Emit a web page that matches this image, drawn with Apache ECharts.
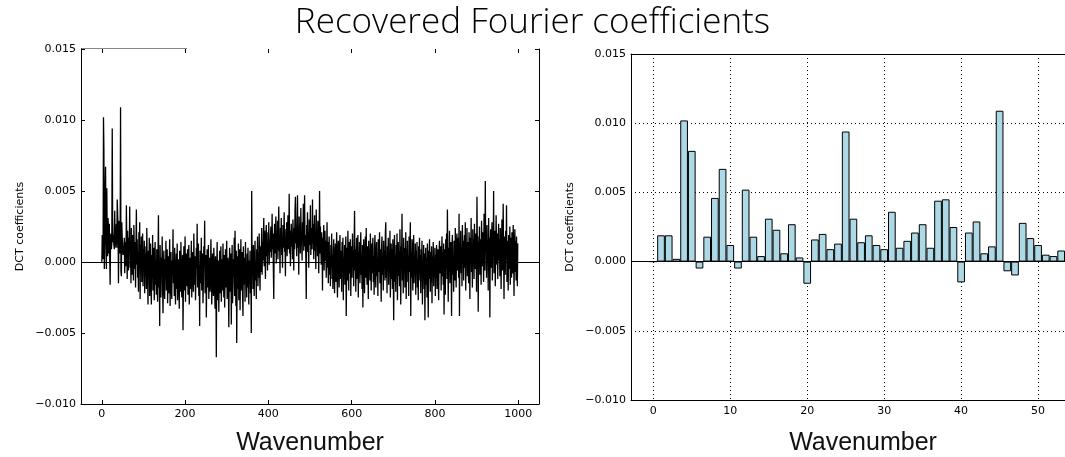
<!DOCTYPE html>
<html><head><meta charset="utf-8">
<script src="https://cdn.jsdelivr.net/npm/echarts@6/dist/echarts.min.js"></script>
<style>html,body{margin:0;padding:0;background:#fff}#c{width:1065px;height:457px}</style>
</head><body><div id="c"></div>
<script>
const titleText = 'Recovered Fourier coefficients';
const xName = 'Wavenumber';
const yName = 'DCT coefficients';
const leftXTicks = [0, 200, 400, 600, 800, 1000];
const rightXTicks = [0, 10, 20, 30, 40, 50];
const rightBarCount = 55; // wavenumbers 0..54 appear in the zoomed bar panel
// DCT coefficient for wavenumber 0..999
const coefficients = [
0.0000,0.0019,0.0019,0.0002,0.0102,0.0080,-0.0005,0.0018,0.0046,0.0067,
0.0012,-0.0005,0.0052,0.0018,0.0004,0.0031,0.0023,0.0006,0.0027,0.0003,
-0.0016,0.0016,0.0020,0.0009,0.0013,0.0094,0.0031,0.0014,0.0019,0.0012,
0.0009,0.0036,0.0010,0.0015,0.0021,0.0027,0.0010,0.0044,0.0045,0.0025,
-0.0015,0.0021,0.0029,0.0006,0.0011,0.0109,-0.0007,-0.0010,0.0028,0.0017,
0.0012,0.0005,0.0004,0.0008,0.0017,-0.0008,0.0014,0.0006,-0.0003,0.0040,
0.0011,-0.0012,0.0022,0.0003,-0.0006,0.0017,0.0009,0.0039,-0.0004,0.0013,
-0.0015,0.0024,0.0005,-0.0009,0.0019,0.0002,-0.0013,0.0026,0.0008,-0.0005,
0.0014,-0.0018,0.0010,0.0037,-0.0002,0.0016,-0.0011,0.0007,-0.0021,0.0021,
0.0003,0.0028,-0.0026,0.0012,-0.0007,0.0018,-0.0014,0.0004,0.0020,-0.0017,
0.0009,-0.0003,0.0015,-0.0022,0.0006,-0.0009,0.0011,-0.0019,0.0024,0.0002,
-0.0012,-0.0030,0.0008,-0.0006,0.0017,-0.0024,-0.0003,0.0013,-0.0015,-0.0030,
0.0005,-0.0011,0.0019,-0.0020,-0.0002,0.0010,-0.0027,-0.0008,0.0014,-0.0016,
0.0001,-0.0023,0.0009,-0.0012,-0.0028,0.0006,0.0033,-0.0018,-0.0005,-0.0045,
0.0012,-0.0014,-0.0025,0.0003,-0.0009,0.0018,-0.0021,-0.0036,-0.0004,0.0008,
-0.0017,-0.0026,0.0002,-0.0011,0.0015,-0.0020,-0.0007,0.0009,-0.0029,-0.0013,
0.0004,-0.0022,-0.0001,0.0016,-0.0031,-0.0010,0.0007,-0.0018,-0.0026,0.0001,
-0.0008,0.0023,-0.0015,-0.0003,-0.0024,0.0010,-0.0012,-0.0030,-0.0005,0.0006,
-0.0019,0.0013,-0.0027,-0.0009,0.0002,-0.0016,-0.0033,0.0008,-0.0006,-0.0021,
0.0014,-0.0011,-0.0025,-0.0002,0.0005,-0.0048,-0.0014,0.0011,-0.0020,-0.0007,
0.0018,-0.0028,-0.0004,0.0006,-0.0017,-0.0010,0.0009,-0.0023,-0.0001,0.0012,
-0.0030,-0.0014,0.0003,-0.0019,-0.0006,0.0015,-0.0025,-0.0011,0.0007,-0.0003,
-0.0021,0.0020,-0.0008,-0.0016,0.0004,-0.0027,-0.0012,0.0010,-0.0004,0.0027,
-0.0018,-0.0006,0.0013,-0.0024,-0.0002,-0.0045,0.0008,-0.0015,-0.0009,0.0017,
-0.0020,-0.0005,0.0006,-0.0029,-0.0013,0.0011,-0.0001,0.0029,-0.0022,-0.0008,
0.0005,-0.0039,-0.0014,0.0009,-0.0003,-0.0018,0.0012,-0.0026,-0.0007,0.0003,
-0.0021,-0.0011,0.0016,-0.0004,-0.0030,-0.0015,0.0006,-0.0009,-0.0024,0.0010,
-0.0002,-0.0019,-0.0033,0.0004,-0.0012,-0.0067,-0.0006,0.0014,-0.0027,-0.0017,
0.0001,-0.0035,-0.0010,0.0008,-0.0022,-0.0003,0.0011,-0.0028,-0.0014,0.0002,
-0.0020,0.0013,-0.0008,-0.0025,0.0005,-0.0032,-0.0012,0.0009,-0.0018,-0.0001,
0.0015,-0.0026,-0.0009,0.0003,-0.0016,-0.0046,-0.0005,0.0010,-0.0021,-0.0013,
0.0006,-0.0044,-0.0008,0.0012,-0.0029,-0.0017,0.0002,-0.0010,0.0017,-0.0024,
0.0022,-0.0006,-0.0031,0.0008,-0.0057,-0.0014,0.0004,-0.0019,0.0013,-0.0027,
-0.0003,0.0009,-0.0034,-0.0011,0.0016,-0.0020,-0.0005,0.0007,-0.0023,-0.0038,
0.0011,-0.0009,-0.0016,0.0003,-0.0028,0.0014,-0.0012,-0.0002,-0.0025,0.0006,
-0.0018,0.0010,-0.0007,-0.0030,0.0001,-0.0015,0.0008,-0.0022,-0.0004,-0.0050,
0.0050,-0.0010,0.0005,-0.0019,0.0012,-0.0008,-0.0024,0.0003,0.0015,-0.0013,
-0.0001,-0.0026,0.0009,-0.0006,0.0018,-0.0017,0.0002,-0.0011,0.0020,-0.0004,
-0.0020,0.0011,-0.0007,0.0006,0.0024,-0.0009,0.0014,0.0001,0.0019,0.0031,
-0.0003,0.0022,0.0008,-0.0012,0.0017,0.0026,0.0004,0.0013,-0.0006,0.0021,
0.0010,0.0028,-0.0002,0.0015,0.0007,0.0018,0.0025,0.0003,0.0012,0.0034,
0.0009,0.0020,-0.0005,-0.0026,0.0016,0.0027,0.0006,0.0014,0.0032,-0.0001,
0.0019,0.0011,0.0029,0.0002,0.0022,0.0039,0.0008,0.0015,-0.0008,0.0024,
0.0013,0.0031,0.0005,0.0018,-0.0004,0.0026,0.0010,0.0021,0.0035,0.0007,
0.0016,-0.0010,0.0023,0.0012,0.0028,0.0004,0.0019,0.0033,0.0009,0.0014,
0.0048,0.0006,0.0022,-0.0003,0.0017,0.0027,0.0011,0.0020,0.0002,0.0030,
0.0015,-0.0006,0.0024,0.0009,0.0036,0.0046,0.0013,0.0021,0.0004,0.0029,
0.0047,0.0010,0.0018,-0.0009,0.0032,0.0014,0.0025,0.0006,0.0038,0.0012,
0.0020,0.0001,0.0028,0.0016,0.0041,0.0008,0.0023,0.0047,0.0011,0.0019,
0.0003,-0.0026,0.0026,0.0014,0.0035,0.0007,0.0021,-0.0004,0.0030,0.0012,
0.0018,0.0040,0.0005,0.0024,0.0015,0.0009,0.0044,0.0013,0.0027,0.0002,
0.0020,0.0033,0.0008,0.0016,-0.0005,0.0037,0.0011,0.0023,0.0004,0.0029,
0.0014,-0.0008,0.0019,0.0050,0.0006,0.0025,0.0010,-0.0002,0.0021,0.0013,
-0.0020,0.0017,0.0005,0.0026,-0.0006,0.0012,0.0022,0.0001,0.0015,-0.0011,
0.0009,0.0028,-0.0004,0.0014,-0.0015,0.0007,0.0018,-0.0009,0.0003,-0.0017,
0.0012,-0.0003,0.0020,-0.0012,0.0005,-0.0019,0.0009,0.0016,-0.0007,-0.0022,
0.0004,0.0013,-0.0014,0.0001,0.0021,-0.0010,-0.0025,0.0007,0.0015,-0.0004,
-0.0018,0.0011,0.0019,-0.0012,-0.0002,0.0008,-0.0021,0.0014,-0.0006,0.0017,
-0.0027,0.0003,-0.0009,0.0012,-0.0016,0.0006,0.0018,-0.0038,-0.0005,0.0010,
-0.0013,0.0022,-0.0001,-0.0020,0.0014,0.0002,-0.0008,0.0016,-0.0024,0.0005,
0.0011,-0.0011,0.0020,-0.0003,0.0008,-0.0017,0.0013,0.0036,-0.0006,0.0009,
-0.0021,0.0004,0.0017,-0.0012,0.0001,0.0019,-0.0025,0.0007,-0.0003,0.0014,
-0.0015,0.0010,0.0021,-0.0009,0.0002,-0.0019,0.0012,-0.0032,0.0005,0.0016,
-0.0007,-0.0022,0.0008,0.0018,-0.0011,0.0024,-0.0002,-0.0016,0.0011,0.0003,
-0.0026,0.0015,-0.0005,0.0009,-0.0013,0.0020,0.0001,-0.0020,0.0013,-0.0008,
0.0006,0.0017,-0.0014,0.0004,-0.0023,0.0010,0.0019,-0.0004,-0.0018,0.0007,
0.0014,-0.0010,0.0002,-0.0024,0.0016,0.0005,-0.0007,0.0021,-0.0015,0.0009,
-0.0002,-0.0028,0.0012,0.0018,-0.0009,0.0003,-0.0020,0.0015,-0.0005,0.0008,
-0.0013,0.0020,0.0028,-0.0011,0.0004,-0.0022,0.0011,-0.0001,0.0017,-0.0016,
0.0006,-0.0008,0.0022,-0.0025,0.0001,0.0013,-0.0012,0.0009,-0.0019,0.0016,
-0.0003,-0.0041,0.0007,0.0019,-0.0014,0.0005,-0.0021,0.0012,-0.0006,0.0020,
-0.0027,0.0003,0.0014,-0.0010,0.0008,-0.0017,0.0023,-0.0004,-0.0030,0.0011,
0.0002,0.0034,-0.0013,0.0006,-0.0022,0.0017,-0.0008,0.0010,-0.0018,0.0001,
0.0021,-0.0026,0.0009,-0.0003,0.0015,-0.0014,0.0004,-0.0024,0.0018,-0.0007,
0.0012,0.0028,-0.0038,0.0007,-0.0011,0.0016,-0.0002,-0.0020,0.0010,0.0019,
-0.0015,0.0003,-0.0009,0.0013,-0.0023,0.0008,-0.0005,0.0014,-0.0018,0.0002,
-0.0027,0.0011,-0.0008,0.0017,-0.0013,0.0005,-0.0022,0.0009,-0.0003,0.0015,
-0.0030,0.0001,-0.0011,0.0012,-0.0019,0.0006,-0.0041,-0.0004,0.0010,-0.0016,
0.0003,-0.0025,0.0013,-0.0007,-0.0039,0.0008,-0.0012,0.0016,-0.0002,-0.0021,
0.0007,-0.0014,0.0011,-0.0029,0.0004,-0.0009,0.0014,-0.0017,0.0001,-0.0006,
0.0010,-0.0024,0.0005,-0.0011,0.0012,-0.0019,0.0003,0.0009,-0.0013,-0.0027,
0.0006,0.0015,-0.0008,-0.0002,0.0011,-0.0020,0.0004,0.0018,-0.0010,0.0007,
-0.0016,0.0013,-0.0037,0.0001,0.0009,-0.0023,0.0016,-0.0005,0.0020,-0.0012,
0.0037,0.0002,-0.0028,0.0010,-0.0007,0.0022,-0.0015,0.0006,0.0014,-0.0003,
-0.0038,0.0011,0.0019,-0.0009,0.0004,-0.0021,0.0015,0.0008,-0.0013,0.0024,
0.0001,-0.0018,0.0012,0.0020,-0.0006,0.0009,0.0017,-0.0011,0.0034,-0.0038,
0.0013,0.0005,0.0022,-0.0008,0.0010,-0.0017,0.0026,0.0003,0.0015,-0.0013,
0.0008,0.0019,-0.0004,0.0028,-0.0020,0.0011,0.0001,0.0024,-0.0010,0.0014,
0.0006,-0.0015,0.0021,0.0009,-0.0026,0.0017,0.0002,0.0031,-0.0007,0.0012,
-0.0018,0.0023,0.0005,0.0016,-0.0012,0.0027,0.0004,-0.0005,0.0020,0.0010,
-0.0021,0.0046,0.0007,0.0018,-0.0035,0.0014,0.0003,0.0025,-0.0009,0.0016,
0.0008,-0.0016,0.0029,0.0011,-0.0003,0.0021,0.0005,-0.0014,0.0034,0.0013,
-0.0006,0.0057,0.0009,0.0019,-0.0011,0.0026,0.0002,0.0015,-0.0020,0.0031,
0.0007,0.0017,-0.0039,0.0012,0.0023,-0.0004,0.0010,0.0028,-0.0013,0.0018,
0.0004,0.0050,-0.0008,0.0014,0.0022,-0.0017,0.0006,0.0033,0.0011,-0.0002,
0.0020,-0.0012,0.0009,0.0027,0.0001,0.0016,-0.0010,0.0024,0.0005,-0.0019,
0.0013,0.0030,-0.0006,0.0008,0.0041,0.0003,-0.0026,0.0018,0.0011,-0.0009,
0.0022,0.0002,0.0040,-0.0014,0.0015,0.0007,-0.0020,0.0019,0.0010,-0.0005,
0.0025,-0.0016,0.0006,0.0017,-0.0011,0.0021,0.0001,-0.0008,0.0026,0.0012,
-0.0024,0.0009,0.0023,-0.0007,0.0015,-0.0013,0.0018,0.0004,-0.0017,0.0013
];

const leftData = coefficients.map((v, i) => [i, v]);
const rightData = coefficients.slice(0, rightBarCount).map((v, i) => [i, v]);

const axisFont = { fontFamily: 'DejaVu Sans', fontSize: 11, color: '#000' };
const fmtY = v => (v < -1e-12 ? '\u2212' : '') + Math.abs(v).toFixed(3);
const fmtX = v => String(Math.round(v));
const dotted = { color: '#000', width: 1, type: [1, 3] };
const zeroLine = {
  silent: true, symbol: 'none', label: { show: false },
  lineStyle: { color: '#000', width: 1, type: 'solid' },
  data: [{ yAxis: 0 }]
};

const chart = echarts.init(document.getElementById('c'), null, { renderer: 'canvas' });
chart.setOption({
  animation: false,
  backgroundColor: '#fff',
  title: {
    text: titleText, left: 'center', top: 1,
    textStyle: { fontFamily: 'Open Sans', fontSize: 35, fontWeight: 300, color: '#000' }
  },
  grid: [
    { left: 81, top: 49, width: 458, height: 355 },
    { left: 631, top: 54, right: 0, height: 346 }
  ],
  xAxis: [
    { gridIndex: 0, type: 'value', min: -50, max: 1050, position: 'bottom',
      axisLine: { show: true, onZero: false, lineStyle: { color: '#000', width: 1 } },
      axisTick: { show: true, inside: true, length: 4, customValues: leftXTicks, lineStyle: { color: '#000' } },
      axisLabel: Object.assign({ customValues: leftXTicks, margin: 5, formatter: fmtX }, axisFont),
      splitLine: { show: false } },
    { gridIndex: 0, type: 'value', min: -50, max: 1050, position: 'top',
      axisLine: { show: false, onZero: false },
      axisTick: { show: true, inside: true, length: 4, customValues: leftXTicks, lineStyle: { color: '#000' } },
      axisLabel: { show: false }, splitLine: { show: false } },
    { gridIndex: 1, type: 'value', min: -2.9, max: 53.5, position: 'bottom',
      axisLine: { show: true, onZero: false, lineStyle: { color: '#000', width: 1 } },
      axisTick: { show: false, customValues: rightXTicks },
      axisLabel: Object.assign({ customValues: rightXTicks, margin: 6, formatter: fmtX }, axisFont),
      splitLine: { show: true, lineStyle: dotted } },
    { gridIndex: 1, type: 'value', min: -2.9, max: 53.5, position: 'top',
      axisLine: { show: true, onZero: false, lineStyle: { color: '#000', width: 1 } },
      axisTick: { show: false }, axisLabel: { show: false }, splitLine: { show: false } }
  ],
  yAxis: [
    { gridIndex: 0, type: 'value', min: -0.01, max: 0.015, interval: 0.005, position: 'left',
      axisLine: { show: true, onZero: false, lineStyle: { color: '#000', width: 1 } },
      axisTick: { show: true, inside: true, length: 4, lineStyle: { color: '#000' } },
      axisLabel: Object.assign({ formatter: fmtY, margin: 5 }, axisFont),
      splitLine: { show: false },
      name: yName, nameLocation: 'middle', nameGap: 55,
      nameTextStyle: { fontFamily: 'DejaVu Sans', fontSize: 11, color: '#000' } },
    { gridIndex: 0, type: 'value', min: -0.01, max: 0.015, interval: 0.005, position: 'right',
      axisLine: { show: true, onZero: false, lineStyle: { color: '#000', width: 1 } },
      axisTick: { show: true, inside: true, length: 4, lineStyle: { color: '#000' } },
      axisLabel: { show: false }, splitLine: { show: false } },
    { gridIndex: 1, type: 'value', min: -0.01, max: 0.015, interval: 0.005, position: 'left',
      axisLine: { show: true, onZero: false, lineStyle: { color: '#000', width: 1 } },
      axisTick: { show: false },
      axisLabel: Object.assign({ formatter: fmtY, margin: 5 }, axisFont),
      splitLine: { show: true, lineStyle: dotted },
      name: yName, nameLocation: 'middle', nameGap: 55,
      nameTextStyle: { fontFamily: 'DejaVu Sans', fontSize: 11, color: '#000' } }
  ],
  series: [
    { type: 'line', xAxisIndex: 0, yAxisIndex: 0, data: leftData,
      symbol: 'none', showSymbol: false, lineStyle: { color: '#000', width: 1.3 },
      markLine: zeroLine, z: 3 },
    { type: 'bar', xAxisIndex: 2, yAxisIndex: 2, data: rightData,
      barWidth: '100%', barCategoryGap: '0%', barGap: '0%',
      itemStyle: { color: '#ADD8E6', borderColor: '#000', borderWidth: 1 },
      markLine: zeroLine, z: 3 }
  ],
  graphic: [
    { type: 'line', silent: true, shape: { x1: 81, y1: 48.5, x2: 187, y2: 48.5 },
      style: { stroke: '#888', lineWidth: 1 } },
    { type: 'text', silent: true, x: 310, y: 443,
      style: { text: xName, fontFamily: 'Liberation Sans', fontSize: 25, fill: '#111', textAlign: 'center', textVerticalAlign: 'middle' } },
    { type: 'text', silent: true, x: 863, y: 443,
      style: { text: xName, fontFamily: 'Liberation Sans', fontSize: 25, fill: '#111', textAlign: 'center', textVerticalAlign: 'middle' } }
  ]
});
</script></body></html>
